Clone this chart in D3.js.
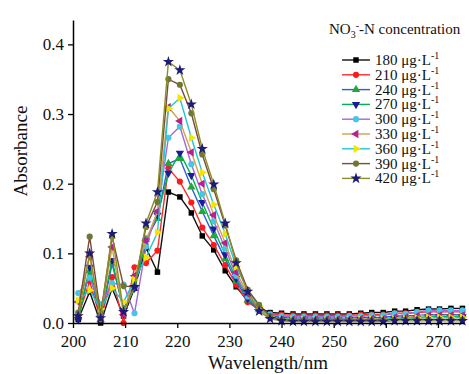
<!DOCTYPE html>
<html>
<head>
<meta charset="utf-8">
<script src="https://cdn.jsdelivr.net/npm/d3@7"></script>
<style>
  body { margin: 0; background: #fff; }
  svg text { font-family: "Liberation Serif", "Times New Roman", serif !important; }
</style>
</head>
<body>
<svg width="469" height="374"></svg>
<script>
// wavelengths (nm) of the sampled points
const wavelengths = [201.0, 203.2, 205.3, 207.5, 209.7, 211.8, 214.0, 216.2, 218.3, 220.5,
  222.7, 224.8, 227.0, 229.2, 231.3, 233.5, 235.7, 237.8, 240.0, 242.2, 244.3, 246.5,
  248.7, 250.8, 253.0, 255.2, 257.3, 259.5, 261.7, 263.8, 266.0, 268.2, 270.3, 272.5, 274.7];

const concentrations = ["180", "210", "240", "270", "300", "330", "360", "390", "420"];

const abs180 = [0.005, 0.045, 0.000, 0.050, 0.010, 0.050, 0.108, 0.073, 0.188, 0.181,
  0.158, 0.125, 0.105, 0.075, 0.052, 0.032, 0.022, 0.015, 0.014, 0.013, 0.013, 0.013,
  0.013, 0.013, 0.013, 0.014, 0.015, 0.015, 0.017, 0.017, 0.019, 0.020, 0.020, 0.021, 0.021];
const abs210 = [0.010, 0.060, 0.005, 0.066, 0.000, 0.080, 0.086, 0.104, 0.222, 0.203,
  0.173, 0.137, 0.112, 0.083, 0.055, 0.030, 0.019, 0.013, 0.012, 0.011, 0.011, 0.011,
  0.011, 0.011, 0.011, 0.012, 0.012, 0.012, 0.014, 0.014, 0.015, 0.016, 0.016, 0.016, 0.016];
const abs240 = [0.008, 0.075, 0.005, 0.085, 0.020, 0.055, 0.120, 0.150, 0.229, 0.236,
  0.195, 0.160, 0.125, 0.092, 0.060, 0.033, 0.019, 0.011, 0.008, 0.007, 0.007, 0.007,
  0.007, 0.007, 0.007, 0.008, 0.008, 0.008, 0.010, 0.010, 0.011, 0.012, 0.012, 0.012, 0.012];
const abs270 = [0.005, 0.080, 0.010, 0.090, 0.018, 0.050, 0.118, 0.155, 0.215, 0.244,
  0.212, 0.173, 0.135, 0.098, 0.064, 0.035, 0.020, 0.009, 0.006, 0.005, 0.005, 0.005,
  0.005, 0.005, 0.005, 0.006, 0.006, 0.006, 0.007, 0.007, 0.008, 0.009, 0.009, 0.009, 0.009];
const abs300 = [0.043, 0.065, 0.027, 0.057, 0.055, 0.014, 0.110, 0.160, 0.266, 0.282,
  0.228, 0.185, 0.146, 0.107, 0.068, 0.038, 0.021, 0.012, 0.010, 0.009, 0.009, 0.009,
  0.009, 0.009, 0.010, 0.010, 0.011, 0.011, 0.014, 0.013, 0.016, 0.018, 0.018, 0.018, 0.018];
const abs330 = [0.030, 0.095, 0.010, 0.109, 0.012, 0.068, 0.118, 0.160, 0.310, 0.290,
  0.245, 0.200, 0.155, 0.115, 0.073, 0.042, 0.022, 0.008, 0.005, 0.005, 0.005, 0.005,
  0.005, 0.005, 0.005, 0.006, 0.006, 0.006, 0.008, 0.008, 0.010, 0.011, 0.011, 0.011, 0.011];
const abs360 = [0.032, 0.047, 0.020, 0.050, 0.030, 0.062, 0.094, 0.130, 0.308, 0.323,
  0.266, 0.216, 0.170, 0.128, 0.081, 0.047, 0.024, 0.009, 0.004, 0.004, 0.004, 0.004,
  0.004, 0.004, 0.004, 0.005, 0.005, 0.005, 0.006, 0.006, 0.007, 0.008, 0.008, 0.008, 0.008];
const abs390 = [0.015, 0.124, 0.012, 0.124, 0.053, 0.052, 0.138, 0.174, 0.350, 0.342,
  0.301, 0.242, 0.192, 0.140, 0.090, 0.048, 0.026, 0.010, 0.004, 0.004, 0.004, 0.004,
  0.004, 0.004, 0.004, 0.004, 0.004, 0.004, 0.005, 0.005, 0.005, 0.005, 0.005, 0.005, 0.005];
const abs420 = [0.010, 0.100, 0.007, 0.128, 0.016, 0.052, 0.143, 0.188, 0.375, 0.363,
  0.314, 0.250, 0.199, 0.143, 0.086, 0.045, 0.017, 0.006, 0.003, 0.002, 0.002, 0.002,
  0.002, 0.002, 0.002, 0.002, 0.002, 0.002, 0.003, 0.003, 0.003, 0.003, 0.003, 0.003, 0.003];

const xTicks = [200, 210, 220, 230, 240, 250, 260, 270];
const yTicks = [0.0, 0.1, 0.2, 0.3, 0.4];

const seriesValues = [abs180, abs210, abs240, abs270, abs300, abs330, abs360, abs390, abs420];

// line colour, marker colour, marker shape per series
const styles = [
  {line: "#111111", fill: "#000000", shape: "square"},
  {line: "#ff2a2a", fill: "#ff1a1a", shape: "circle"},
  {line: "#2a5fd8", fill: "#22a836", shape: "up"},
  {line: "#00b050", fill: "#1c1c96", shape: "down"},
  {line: "#a466dc", fill: "#45c6e6", shape: "circle"},
  {line: "#d2a050", fill: "#b8208e", shape: "left"},
  {line: "#22c6d2", fill: "#f2e600", shape: "right"},
  {line: "#7a4a3a", fill: "#6e7832", shape: "circle"},
  {line: "#8c8c2a", fill: "#1c1c78", shape: "star"}
];

const serif = "'Liberation Serif', 'Times New Roman', serif";

const svg = d3.select("svg");

const x = d3.scaleLinear().domain([200, 275]).range([73, 464]);
const y = d3.scaleLinear().domain([0, 0.435]).range([323, 20]);

function symbolPath(shape, size) {
  if (shape === "square") return d3.symbol(d3.symbolSquare, size)();
  if (shape === "circle") return d3.symbol(d3.symbolCircle, size)();
  if (shape === "star") return d3.symbol(d3.symbolStar, size * 1.3)();
  return d3.symbol(d3.symbolTriangle, size)();
}
function symbolRotate(shape) {
  if (shape === "down") return 180;
  if (shape === "left") return -90;
  if (shape === "right") return 90;
  return 0;
}

const data = seriesValues.map((vals, i) => ({
  key: concentrations[i],
  style: styles[i],
  points: wavelengths.map((w, j) => ({w: w, v: vals[j]}))
}));

const line = d3.line().x(d => x(d.w)).y(d => y(d.v));

const plot = svg.append("g");

const groups = plot.selectAll("g.series")
  .data(data)
  .enter().append("g")
  .attr("class", "series");

groups.append("path")
  .attr("d", d => line(d.points))
  .attr("fill", "none")
  .attr("stroke", d => d.style.line)
  .attr("stroke-width", 1.4);

groups.each(function (d) {
  d3.select(this).selectAll("path.mark")
    .data(d.points)
    .enter().append("path")
    .attr("class", "mark")
    .attr("d", symbolPath(d.style.shape, 30))
    .attr("transform", p => "translate(" + x(p.w) + "," + y(p.v) + ") rotate(" + symbolRotate(d.style.shape) + ")")
    .attr("fill", d.style.fill);
});

// axes
const xAxis = svg.append("g")
  .attr("transform", "translate(0,323)")
  .call(d3.axisBottom(x).tickValues(xTicks).tickSize(5).tickSizeOuter(0).tickFormat(d3.format("d")));
xAxis.attr("font-family", serif);
xAxis.select(".domain").attr("stroke-width", 1.5);
xAxis.selectAll(".tick line").attr("stroke-width", 1.3);
xAxis.selectAll("text").attr("font-size", 17).style("font-family", serif).attr("fill", "#111").attr("dy", "0.95em");

const yAxis = svg.append("g")
  .attr("transform", "translate(73,0)")
  .call(d3.axisLeft(y).tickValues(yTicks).tickSize(5).tickSizeOuter(0).tickFormat(d3.format(".1f")));
yAxis.attr("font-family", serif);
yAxis.select(".domain").attr("stroke-width", 1.5);
yAxis.selectAll(".tick line").attr("stroke-width", 1.3);
yAxis.selectAll("text").attr("font-size", 17).style("font-family", serif).attr("fill", "#111").attr("x", -9);

svg.append("text")
  .attr("x", 268).attr("y", 369)
  .attr("text-anchor", "middle")
  .attr("font-size", 19)
  .style("font-family", serif)
  .attr("fill", "#111")
  .text("Wavelength/nm");

svg.append("text")
  .attr("transform", "translate(27,151) rotate(-90)")
  .attr("text-anchor", "middle")
  .attr("font-size", 19)
  .style("font-family", serif)
  .attr("fill", "#111")
  .text("Absorbance");

// legend
const legendTitle = svg.append("text")
  .attr("x", 329).attr("y", 34)
  .attr("font-size", 15)
  .style("font-family", serif)
  .attr("fill", "#111");
legendTitle.append("tspan").text("NO");
legendTitle.append("tspan").attr("font-size", 10).attr("dy", 4).text("3");
legendTitle.append("tspan").attr("font-size", 10).attr("dy", -9).text("-");
legendTitle.append("tspan").attr("dy", 5).text("-N concentration");

const legend = svg.append("g")
  .selectAll("g")
  .data(data)
  .enter().append("g")
  .attr("transform", (d, i) => "translate(0," + (60 + i * 14.8) + ")");

legend.append("line")
  .attr("x1", 342).attr("x2", 370)
  .attr("stroke", d => d.style.line)
  .attr("stroke-width", 1.4);

legend.append("path")
  .attr("d", d => symbolPath(d.style.shape, 30))
  .attr("transform", d => "translate(356,0) rotate(" + symbolRotate(d.style.shape) + ")")
  .attr("fill", d => d.style.fill);

const lt = legend.append("text")
  .attr("x", 375).attr("y", 5)
  .attr("font-size", 15)
  .style("font-family", serif)
  .attr("fill", "#111");
lt.append("tspan").text(d => d.key + " μg·L");
lt.append("tspan").attr("font-size", 10).attr("dy", -6).text("-1");
</script>
</body>
</html>
